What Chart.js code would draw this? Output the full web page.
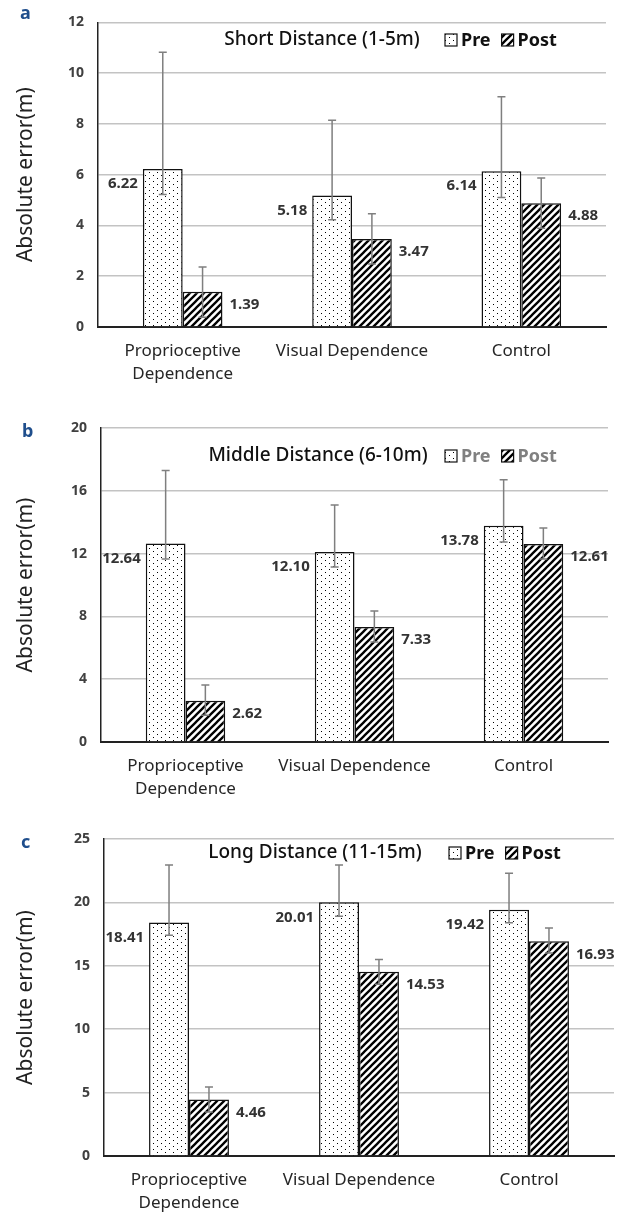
<!DOCTYPE html>
<html>
<head>
<meta charset="utf-8">
<script src="https://cdn.jsdelivr.net/npm/chart.js@4.4.0/dist/chart.umd.min.js"></script>
<style>
  body { margin: 0; background: #fff; }
  canvas { position: absolute; left: 0; }
</style>
</head>
<body>
<canvas id="chartA" width="624" height="400" style="top:0"></canvas>
<canvas id="chartB" width="624" height="400" style="top:400px"></canvas>
<canvas id="chartC" width="624" height="413" style="top:800px"></canvas>
<script>
// categories
const groups = [['Proprioceptive', 'Dependence'], 'Visual Dependence', 'Control'];

// a: short distance
const shortPre = [6.22, 5.18, 6.14];
const shortPost = [1.39, 3.47, 4.88];
const shortPreUp = [4.60, 2.97, 2.93];
const shortPreDown = [1.00, 0.95, 1.04];
const shortPostUp = [0.97, 0.99, 0.99];
const shortPostDown = [1.01, 0.99, 0.99];
const shortTicks = {max: 12, step: 2};

// b: middle distance
const middlePre = [12.64, 12.10, 13.78];
const middlePost = [2.62, 7.33, 12.61];
const middlePreUp = [4.66, 3.00, 2.92];
const middlePreDown = [0.99, 0.95, 1.04];
const middlePostUp = [1.01, 1.01, 1.02];
const middlePostDown = [0.92, 0.96, 0.96];
const middleTicks = {max: 20, step: 4};

// c: long distance
const longPre = [18.41, 20.01, 19.42];
const longPost = [4.46, 14.53, 16.93];
const longPreUp = [4.54, 2.94, 2.88];
const longPreDown = [1.01, 1.11, 1.02];
const longPostUp = [0.98, 0.97, 1.05];
const longPostDown = [0.99, 0.98, 0.93];
const longTicks = {max: 25, step: 5};

const FONT = '"Noto Sans", "Open Sans", sans-serif';

function dotPattern() {
  const c = document.createElement('canvas');
  c.width = 8; c.height = 6;
  const g = c.getContext('2d');
  g.fillStyle = '#fff';
  g.fillRect(0, 0, 8, 6);
  g.fillStyle = '#000';
  g.fillRect(1, 1, 1, 1);
  g.fillRect(5, 4, 1, 1);
  return g.createPattern(c, 'repeat');
}

function stripePattern() {
  const s = 7;
  const c = document.createElement('canvas');
  c.width = s; c.height = s;
  const g = c.getContext('2d');
  g.fillStyle = '#fff';
  g.fillRect(0, 0, s, s);
  g.strokeStyle = '#000';
  g.lineWidth = 2.3;
  g.beginPath();
  g.moveTo(0, s); g.lineTo(s, 0);
  g.moveTo(-2, 2); g.lineTo(2, -2);
  g.moveTo(s - 2, s + 2); g.lineTo(s + 2, s - 2);
  g.stroke();
  return g.createPattern(c, 'repeat');
}

const dots = dotPattern();
const stripes = stripePattern();

// error bars drawn on top of the bars
const errorBars = {
  id: 'errorBars',
  afterDatasetsDraw(chart) {
    const {ctx, scales: {y}} = chart;
    ctx.save();
    ctx.strokeStyle = '#7f7f7f';
    ctx.lineWidth = 1.5;
    chart.data.datasets.forEach((ds, i) => {
      chart.getDatasetMeta(i).data.forEach((bar, j) => {
        const top = y.getPixelForValue(ds.data[j] + ds.errUp[j]);
        const bot = y.getPixelForValue(ds.data[j] - ds.errDown[j]);
        ctx.beginPath();
        ctx.moveTo(bar.x, top); ctx.lineTo(bar.x, bot);
        ctx.moveTo(bar.x - 4, top); ctx.lineTo(bar.x + 4, top);
        ctx.moveTo(bar.x - 4, bot); ctx.lineTo(bar.x + 4, bot);
        ctx.stroke();
      });
    });
    ctx.restore();
  }
};

// value labels: Pre on the left of its bar, Post on the right
const valueLabels = {
  id: 'valueLabels',
  afterDatasetsDraw(chart) {
    const {ctx} = chart;
    ctx.save();
    ctx.font = 'bold 15px ' + FONT;
    ctx.fillStyle = '#333';
    ctx.textBaseline = 'middle';
    chart.data.datasets.forEach((ds, i) => {
      chart.getDatasetMeta(i).data.forEach((bar, j) => {
        const txt = ds.data[j].toFixed(2);
        if (i === 0) {
          ctx.textAlign = 'right';
          ctx.fillText(txt, bar.x - bar.width / 2 - 5, bar.y + 15);
        } else {
          ctx.textAlign = 'left';
          ctx.fillText(txt, bar.x + bar.width / 2 + 7, bar.y + 13);
        }
      });
    });
    ctx.restore();
  }
};

// panel letter, title and legend inside the plot
const panelHead = {
  id: 'panelHead',
  afterDraw(chart, args, o) {
    const {ctx} = chart;
    ctx.save();
    ctx.textBaseline = 'middle';
    ctx.textAlign = 'left';
    ctx.fillStyle = '#1f4e8c';
    ctx.font = 'bold 18px ' + FONT;
    ctx.fillText(o.letter, o.letterX, o.letterY);

    ctx.fillStyle = '#111';
    ctx.font = '500 19px ' + FONT;
    ctx.textAlign = 'center';
    ctx.fillText(o.title, o.titleX, o.headY);

    let x = o.legendX;
    ctx.textAlign = 'left';
    ctx.font = 'bold 18px ' + FONT;
    chart.data.datasets.forEach(ds => {
      ctx.fillStyle = ds.backgroundColor;
      ctx.fillRect(x, o.headY - 6, 12, 12);
      ctx.strokeStyle = '#111';
      ctx.lineWidth = 1.2;
      ctx.strokeRect(x, o.headY - 6, 12, 12);
      ctx.fillStyle = o.legendColor;
      ctx.fillText(ds.label, x + 16, o.headY + 1);
      x += 16 + ctx.measureText(ds.label).width + 11;
    });
    ctx.restore();
  }
};

function makeChart(id, p) {
  return new Chart(document.getElementById(id), {
    type: 'bar',
    data: {
      labels: groups,
      datasets: [
        {label: 'Pre', data: p.pre, errUp: p.preUp, errDown: p.preDown,
         backgroundColor: dots, borderColor: '#111', borderWidth: 1.5},
        {label: 'Post', data: p.post, errUp: p.postUp, errDown: p.postDown,
         backgroundColor: stripes, borderColor: '#111', borderWidth: 1.5}
      ]
    },
    options: {
      responsive: false,
      animation: false,
      categoryPercentage: 0.47,
      barPercentage: 1,
      layout: {padding: {top: p.area.top, right: 624 - p.area.right, left: 0, bottom: 0}},
      plugins: {
        legend: {display: false},
        tooltip: {enabled: false},
        panelHead: p.head
      },
      scales: {
        x: {
          grid: {color: 'rgba(0,0,0,0)', drawTicks: false},
          border: {color: '#222', width: 2},
          ticks: {font: {family: FONT, size: 17, lineHeight: 1.35}, color: '#262626', padding: 13, maxRotation: 0, autoSkip: false},
          afterFit: s => { s.height = p.height - p.area.bottom; }
        },
        y: {
          min: 0,
          max: p.ticks.max,
          ticks: {stepSize: p.ticks.step, font: {family: FONT, size: 14, weight: 'bold'}, color: '#404040', padding: 14},
          grid: {color: '#c3c3c3', lineWidth: 1.5, drawTicks: false},
          border: {color: '#222', width: 1.5},
          title: {display: true, text: 'Absolute error(m)', font: {family: FONT, size: 21}, color: '#222', padding: {top: 13, bottom: 0}},
          afterFit: s => { s.width = p.area.left; }
        }
      }
    },
    plugins: [errorBars, valueLabels, panelHead]
  });
}

makeChart('chartA', {
  pre: shortPre, post: shortPost,
  preUp: shortPreUp, preDown: shortPreDown, postUp: shortPostUp, postDown: shortPostDown,
  ticks: shortTicks, height: 400,
  area: {left: 98, right: 606, top: 12, bottom: 327},
  head: {letter: 'a', letterX: 20, letterY: 14, title: 'Short Distance (1-5m)', titleX: 322, headY: 40, legendX: 445, legendColor: '#111'}
});

makeChart('chartB', {
  pre: middlePre, post: middlePost,
  preUp: middlePreUp, preDown: middlePreDown, postUp: middlePostUp, postDown: middlePostDown,
  ticks: middleTicks, height: 400,
  area: {left: 101, right: 608, top: 28, bottom: 342},
  head: {letter: 'b', letterX: 22, letterY: 32, title: 'Middle Distance (6-10m)', titleX: 318, headY: 56, legendX: 445, legendColor: '#808080'}
});

makeChart('chartC', {
  pre: longPre, post: longPost,
  preUp: longPreUp, preDown: longPreDown, postUp: longPostUp, postDown: longPostDown,
  ticks: longTicks, height: 413,
  area: {left: 104, right: 614, top: 39, bottom: 356},
  head: {letter: 'c', letterX: 21, letterY: 43, title: 'Long Distance (11-15m)', titleX: 315, headY: 53, legendX: 449, legendColor: '#111'}
});
</script>
</body>
</html>
